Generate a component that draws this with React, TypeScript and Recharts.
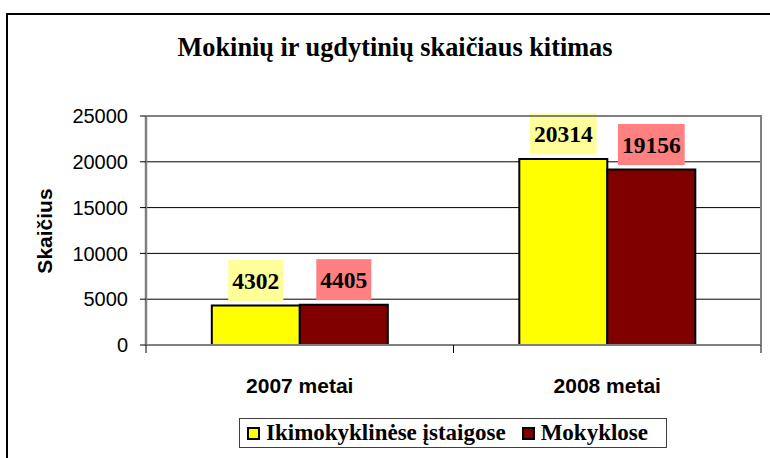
import React from 'react';
import { BarChart, Bar, XAxis, YAxis, CartesianGrid, LabelList, Legend } from 'recharts';

const categories = ['2007 metai', '2008 metai'];
const ikimokyklinese = [4302, 20314];
const mokyklose = [4405, 19156];
const yTicks = [0, 5000, 10000, 15000, 20000, 25000];
const seriesNames = ['Ikimokyklinėse įstaigose', 'Mokyklose'];
const chartTitle = 'Mokinių ir ugdytinių skaičiaus kitimas';
const yAxisTitle = 'Skaičius';

const data = categories.map((c, i) => ({ name: c, a: ikimokyklinese[i], b: mokyklose[i] }));

const W = 770;
const H = 458;
const PLOT_L = 146;
const PLOT_R = 761;
const PLOT_T = 116;
const PLOT_B = 345;
const X_AXIS_H = 40;
const SERIF = '"Liberation Serif", "Times New Roman", serif';
const SANS = '"Liberation Sans", Arial, sans-serif';

const makeLabel = (bg: string) => (props: any) => {
  const { x, y, width, value } = props;
  const fs = 23.5;
  const text = String(value);
  const bw = text.length * fs * 0.5 + 8;
  const bh = 41;
  const cx = Number(x) + Number(width) / 2;
  const bottom = Number(y) - 4.5;
  return (
    <g>
      <rect x={cx - bw / 2} y={bottom - bh} width={bw} height={bh} fill={bg} />
      <text
        x={cx}
        y={bottom - bh / 2}
        dy="0.34em"
        textAnchor="middle"
        fontFamily={SERIF}
        fontWeight="bold"
        fontSize={fs}
        fill="#000"
      >
        {text}
      </text>
    </g>
  );
};

const halfBand = (PLOT_R - PLOT_L) / categories.length / 2;

const XTick = (props: any) => {
  const { x, payload, index } = props;
  return (
    <g>
      <line x1={x - halfBand} x2={x - halfBand} y1={PLOT_B} y2={PLOT_B + 8} stroke="#000" strokeWidth={1} />
      {index === categories.length - 1 && (
        <line x1={x + halfBand} x2={x + halfBand} y1={PLOT_B} y2={PLOT_B + 8} stroke="#000" strokeWidth={1} />
      )}
      <text
        x={x}
        y={PLOT_B + 41}
        dy="0.355em"
        textAnchor="middle"
        fontFamily={SANS}
        fontWeight="bold"
        fontSize={21}
        fill="#000"
      >
        {payload.value}
      </text>
    </g>
  );
};

const LegendContent = (props: any) => {
  const payload = props.payload || [];
  return (
    <div
      style={{
        display: 'flex',
        alignItems: 'center',
        border: '1.5px solid #404040',
        background: '#fff',
        height: 30,
        width: 428,
        boxSizing: 'border-box',
        paddingLeft: 7,
        fontFamily: SERIF,
        fontWeight: 'bold',
        fontSize: 23,
        color: '#000',
        whiteSpace: 'nowrap',
      }}
    >
      {payload.map((p: any, i: number) => (
        <div key={i} style={{ display: 'flex', alignItems: 'center', marginRight: 16 }}>
          <span
            style={{
              display: 'inline-block',
              width: 9,
              height: 9,
              background: p.color,
              border: '2px solid #000',
              marginRight: 6,
            }}
          />
          <span style={{ lineHeight: '26px' }}>{p.value}</span>
        </div>
      ))}
    </div>
  );
};

export default function App() {
  return (
    <div style={{ position: 'absolute', left: 0, top: 0, width: W, height: H, background: '#fff' }}>
      <BarChart
        width={W}
        height={H}
        data={data}
        margin={{ top: PLOT_T, right: W - PLOT_R, left: 0, bottom: H - PLOT_B - X_AXIS_H }}
        barCategoryGap="21.4%"
        barGap={0}
      >
        <CartesianGrid horizontal={true} vertical={false} stroke="#000" strokeWidth={1} />
        <XAxis
          dataKey="name"
          height={X_AXIS_H}
          interval={0}
          axisLine={{ stroke: '#808080', strokeWidth: 2 }}
          tickLine={false}
          tick={<XTick />}
        />
        <YAxis
          width={PLOT_L}
          domain={[0, 25000]}
          ticks={yTicks}
          interval={0}
          axisLine={{ stroke: '#808080', strokeWidth: 2.5 }}
          tickLine={{ stroke: '#000', strokeWidth: 1 }}
          tickSize={6}
          tickMargin={12}
          tick={{ fontFamily: SANS, fontSize: 20, fill: '#000' }}
        />
        <Legend
          layout="horizontal"
          verticalAlign="middle"
          align="center"
          content={<LegendContent />}
          wrapperStyle={{ position: 'absolute', left: 239, top: 418, bottom: 'auto', width: 428, height: 30 }}
        />
        <Bar dataKey="a" name={seriesNames[0]} fill="#FFFF00" stroke="#000" strokeWidth={2} isAnimationActive={false}>
          <LabelList dataKey="a" content={makeLabel('#FFFF99')} />
        </Bar>
        <Bar dataKey="b" name={seriesNames[1]} fill="#800000" stroke="#000" strokeWidth={2} isAnimationActive={false}>
          <LabelList dataKey="b" content={makeLabel('#FF8080')} />
        </Bar>
      </BarChart>
      <svg
        width={W}
        height={H}
        style={{ position: 'absolute', left: 0, top: 0, pointerEvents: 'none' }}
      >
        <rect x={7} y={14} width={W + 20} height={H + 20} fill="none" stroke="#000" strokeWidth={2} />
        <line x1={PLOT_L} x2={PLOT_R + 1} y1={PLOT_T} y2={PLOT_T} stroke="#808080" strokeWidth={2} />
        <line x1={PLOT_R} x2={PLOT_R} y1={PLOT_T} y2={PLOT_B} stroke="#808080" strokeWidth={2} />
        <text
          x={395}
          y={47}
          dy="0.35em"
          textAnchor="middle"
          fontFamily={SERIF}
          fontWeight="bold"
          fontSize={26.3}
          fill="#000"
        >
          {chartTitle}
        </text>
        <text
          x={45}
          y={231}
          dy="0.35em"
          textAnchor="middle"
          transform="rotate(-90 45 231)"
          fontFamily={SANS}
          fontWeight="bold"
          fontSize={21}
          fill="#000"
        >
          {yAxisTitle}
        </text>
      </svg>
    </div>
  );
}
